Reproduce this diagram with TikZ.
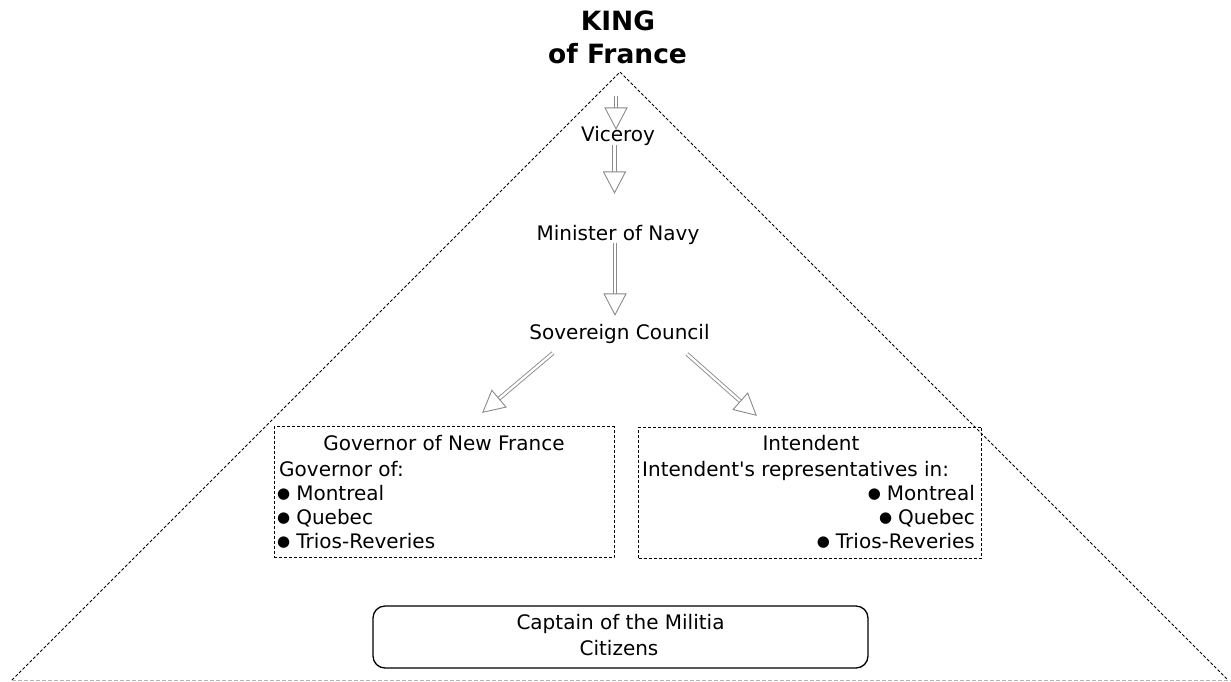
\documentclass[tikz,border=0pt]{standalone}
\usepackage{fontspec}
\setmainfont{DejaVu Sans}[Ligatures=TeXOff]
\usetikzlibrary{shapes.geometric}
\definecolor{arrowgray}{HTML}{8A8A8A}
\definecolor{basegray}{HTML}{B4B4B4}
% small list bullet
\newcommand{\listdot}{\raisebox{1.2pt}{\fontsize{15}{15}\selectfont ●}\hspace{6pt}}
\begin{document}
\begin{tikzpicture}[x=1pt,y=-1pt,
  txt/.style={font=\fontsize{20}{24}\selectfont, inner sep=0pt, anchor=base},
  kingtxt/.style={font=\fontsize{26.5}{30}\selectfont\bfseries, inner sep=0pt, anchor=base},
  dashbox/.style={draw=black, line width=1pt, dash pattern=on 3pt off 2pt, inner sep=0pt},
  roundbox/.style={draw=black, line width=1.3pt, rounded corners=12pt, inner sep=0pt},
  pyramid/.style={draw=black, line width=1pt, dash pattern=on 3pt off 2pt},
  groundline/.style={draw=basegray, line width=1pt, dash pattern=on 4pt off 2pt},
  shaft/.style={draw=arrowgray, line width=0.9pt, double=white, double distance=2.3pt, shorten >=20pt},
  headtri/.style={isosceles triangle, isosceles triangle stretches, minimum width=22pt,
    minimum height=21pt, inner sep=0pt, draw=arrowgray, fill=white, line width=0.9pt,
    sloped, allow upside down, anchor=apex, pos=1},
]
\useasboundingbox (0,0) rectangle (1231,681);

% pyramid outline and ground line
\coordinate (apex) at (620,72);
\coordinate (baseL) at (12,680);
\coordinate (baseR) at (1228,680);
\coordinate (groundR) at (1231,680);
\draw[pyramid] (baseL) -- (apex) -- (baseR);
\draw[groundline] (baseL) -- (groundR);

% arrow end points
\coordinate (a1s) at (616,96);    \coordinate (a1e) at (616,130);
\coordinate (a2s) at (614.5,145); \coordinate (a2e) at (614.5,194);
\coordinate (a3s) at (615,243);   \coordinate (a3e) at (615,316);
\coordinate (a4s) at (553,353);   \coordinate (a4e) at (482,413);
\coordinate (a5s) at (687,354);   \coordinate (a5e) at (757,416);

% double-line arrows with open heads
\draw[shaft] (a1s) -- (a1e); \path (a1s) -- (a1e) node[headtri] (h1) {};
\draw[shaft] (a2s) -- (a2e); \path (a2s) -- (a2e) node[headtri] (h2) {};
\draw[shaft] (a3s) -- (a3e); \path (a3s) -- (a3e) node[headtri] (h3) {};
\draw[shaft] (a4s) -- (a4e); \path (a4s) -- (a4e) node[headtri] (h4) {};
\draw[shaft] (a5s) -- (a5e); \path (a5s) -- (a5e) node[headtri] (h5) {};

% title
\node[kingtxt] (king) at (618,30) {KING};
\node[kingtxt] (france) at (617.5,63) {of France};

% chain of command
\node[txt] (viceroy) at (618,141) {Viceroy};
\node[txt] (minister) at (618,240) {Minister of Navy};
\node[txt] (council) at (619.5,339) {Sovereign Council};

% governor box
\node[dashbox, minimum width=340pt, minimum height=131pt] (gov) at (444,492) {};
\node[txt] (govhead) at (444,450) {Governor of New France};
\node[txt, anchor=base west] (govof) at (279,476) {Governor of:};
\node[txt, anchor=base west] (govm) at (277,500) {\listdot Montreal};
\node[txt, anchor=base west] (govq) at (277,524) {\listdot Quebec};
\node[txt, anchor=base west] (govt) at (277,548) {\listdot Trios-Reveries};

% intendent box
\node[dashbox, minimum width=343pt, minimum height=131pt] (int) at (810,492.5) {};
\node[txt] (inthead) at (811,450) {Intendent};
\node[txt, anchor=base west] (intrep) at (642,476) {Intendent's representatives in:};
\node[txt, anchor=base east] (intm) at (975,500) {\listdot Montreal};
\node[txt, anchor=base east] (intq) at (975,524) {\listdot Quebec};
\node[txt, anchor=base east] (intt) at (975,548) {\listdot Trios-Reveries};

% militia box
\node[roundbox, minimum width=495pt, minimum height=62pt] (militia) at (620.5,637) {};
\node[txt] (captain) at (620.5,629) {Captain of the Militia};
\node[txt] (citizens) at (619,655) {Citizens};
\end{tikzpicture}
\end{document}
